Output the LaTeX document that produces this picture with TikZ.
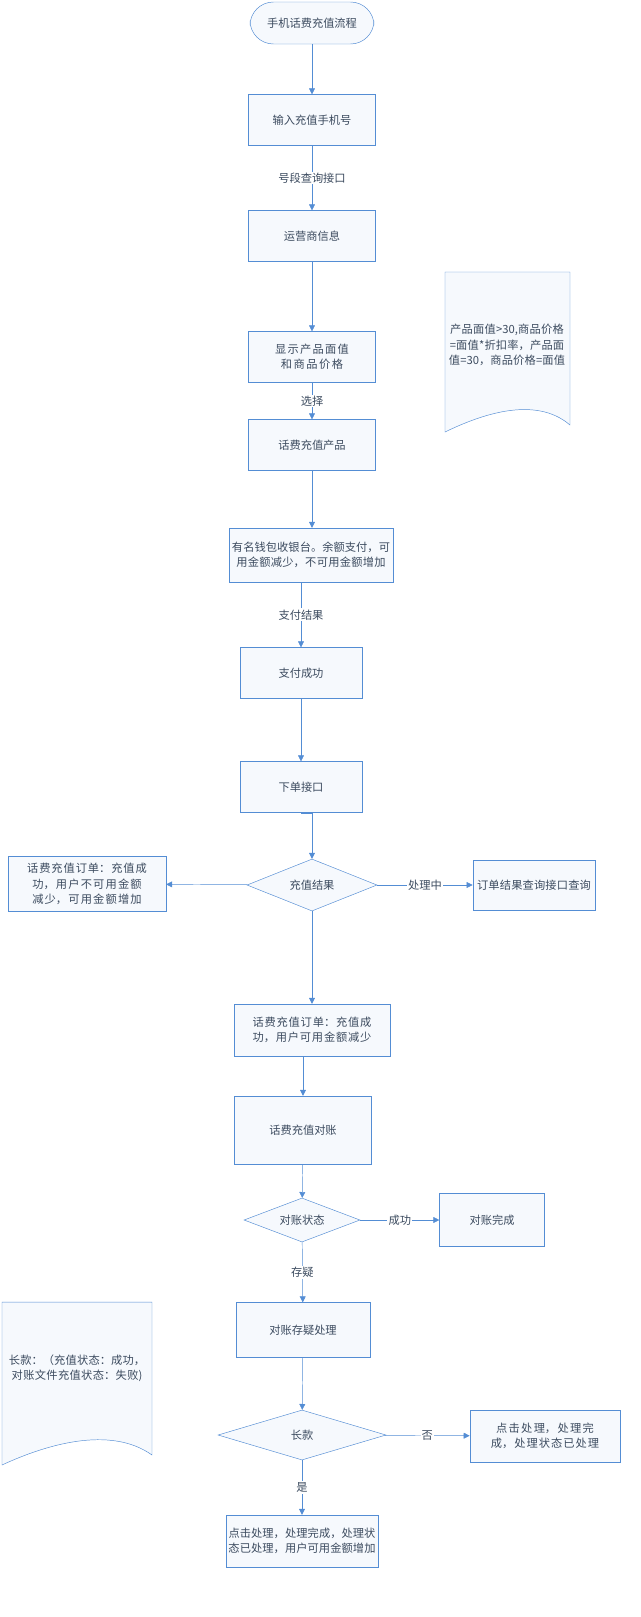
\documentclass[tikz,border=0pt]{standalone}
\usepackage{fontspec}
\setmainfont{Noto Sans CJK SC}
\XeTeXlinebreaklocale "zh"
\XeTeXlinebreakskip = 0pt plus 1pt
\usetikzlibrary{arrows.meta,positioning,shapes.geometric}
\definecolor{flowline}{RGB}{84,141,212}
\definecolor{flowfill}{RGB}{246,249,253}
\definecolor{flowtext}{RGB}{60,75,95}
\newlength{\pxu}\setlength{\pxu}{0.03cm}
\newcommand{\flowfont}{\fontsize{9.6}{13}\selectfont}
\tikzset{
  box/.style={rectangle, draw=flowline, fill=flowfill, font=\flowfont, text=flowtext, align=center},
  term/.style={rectangle, rounded corners=20pt, draw=flowline, fill=flowfill, font=\flowfont, text=flowtext, minimum width=124\pxu, minimum height=42\pxu},
  dec/.style={diamond, draw=flowline, fill=flowfill, font=\flowfont, text=flowtext, aspect=2.5, inner sep=0pt},
  lbl/.style={fill=white, font=\flowfont, text=flowtext, inner sep=1pt},
  flow/.style={draw=flowline, -{Triangle[length=5pt,width=5pt]}},
}
\begin{document}
\begin{tikzpicture}[x=0.03cm, y=-0.03cm]
  \useasboundingbox (0,0) rectangle (640,1617);

  % --- Main column ---
  \node[term] (start) at (312,23) {手机话费充值流程};
  \node[box, minimum width=127\pxu, minimum height=51\pxu] (phone) at (312,120) {输入充值手机号};
  \node[box, minimum width=127\pxu, minimum height=51\pxu] (isp) at (312,236) {运营商信息};
  \node[box, minimum width=127\pxu, minimum height=51\pxu, text width=122\pxu, inner sep=1pt] (show) at (312,357) {显示产品面值和商品价格};
  \node[box, minimum width=127\pxu, minimum height=51\pxu] (prod) at (312,445) {话费充值产品};
  \node[box, minimum width=164\pxu, minimum height=54\pxu, text width=160\pxu, inner sep=1pt] (wallet) at (311,555) {有名钱包收银台。余额支付，可用金额减少，不可用金额增加};
  \node[box, minimum width=122\pxu, minimum height=51\pxu] (paid) at (301,673) {支付成功};
  \node[box, minimum width=122\pxu, minimum height=51\pxu] (order) at (301,787) {下单接口};
  \node[dec, minimum width=130\pxu, minimum height=52\pxu] (result) at (312,885) {充值结果};
  \node[box, minimum width=158\pxu, minimum height=55\pxu, text width=154\pxu, inner sep=1pt] (fail) at (87,884) {话费充值订单：充值成功，用户不可用金额减少，可用金额增加};
  \node[box, minimum width=122\pxu, minimum height=50\pxu, text width=120\pxu, inner sep=1pt] (query) at (534,885) {订单结果查询接口查询};
  \node[box, minimum width=156\pxu, minimum height=52\pxu, text width=150\pxu, inner sep=1pt] (succ) at (312,1030) {话费充值订单：充值成功，用户可用金额减少};
  \node[box, minimum width=137\pxu, minimum height=68\pxu] (recon) at (303,1130) {话费充值对账};
  \node[dec, minimum width=116\pxu, minimum height=44\pxu] (state) at (302,1220) {对账状态};
  \node[box, minimum width=105\pxu, minimum height=53\pxu] (done) at (492,1220) {对账完成};
  \node[box, minimum width=134\pxu, minimum height=55\pxu] (doubt) at (303,1330) {对账存疑处理};
  \node[dec, minimum width=168\pxu, minimum height=50\pxu] (long) at (302,1435) {长款};
  \node[box, minimum width=150\pxu, minimum height=52\pxu, text width=148\pxu, inner sep=1pt] (fixA) at (545,1436) {点击处理，处理完成，处理状态已处理};
  \node[box, minimum width=152\pxu, minimum height=52\pxu, text width=150\pxu, inner sep=1pt] (fixB) at (302,1541) {点击处理，处理完成，处理状态已处理，用户可用金额增加};

  % Connectors
  \draw[flow] (start) -- (phone);
  \draw[flow] (phone) -- node[lbl] {号段查询接口} (isp);
  \draw[flow] (isp) -- (show);
  \draw[flow] (show) -- node[lbl] {选择} (prod);
  \draw[flow] (prod) -- (prod |- wallet.north);
  \draw[flow] (wallet.south -| paid) -- node[lbl] {支付结果} (paid);
  \draw[flow] (paid) -- (order);
  \draw[flow] (order.south) -- (order.south -| result) -- (result);
  \draw[flow] (result) -- (fail);
  \draw[flow] (result) -- node[lbl] {处理中} (query);
  \draw[flow] (result) -- (succ);
  \draw[flow] (succ.south -| recon) -- (recon);
  \draw[flow] (recon) -- (state);
  \draw[flow] (state) -- node[lbl] {成功} (done);
  \draw[flow] (state) -- node[lbl] {存疑} (doubt);
  \draw[flow] (doubt) -- (long);
  \draw[flow] (long) -- node[lbl] {否} (fixA);
  \draw[flow] (long) -- node[lbl] {是} (fixB);

  % Notes (document shapes)
  \draw[flowline, fill=flowfill] (445,272) -- (570,272) -- (570,425)
    .. controls (535,395) and (480,415) .. (445,432) -- cycle;
  \node[font=\flowfont, text=flowtext, text width=122\pxu, align=center] (noteA) at (507,345) {产品面值>30,商品价格=面值*折扣率，产品面值=30，商品价格=面值};
  \draw[flowline, fill=flowfill] (2,1302) -- (152,1302) -- (152,1455)
    .. controls (110,1425) and (45,1445) .. (2,1465) -- cycle;
  \node[font=\flowfont, text=flowtext, text width=144\pxu, align=center] (noteB) at (77,1368) {长款：（充值状态：成功，对账文件充值状态：失败)};
\end{tikzpicture}
\end{document}
